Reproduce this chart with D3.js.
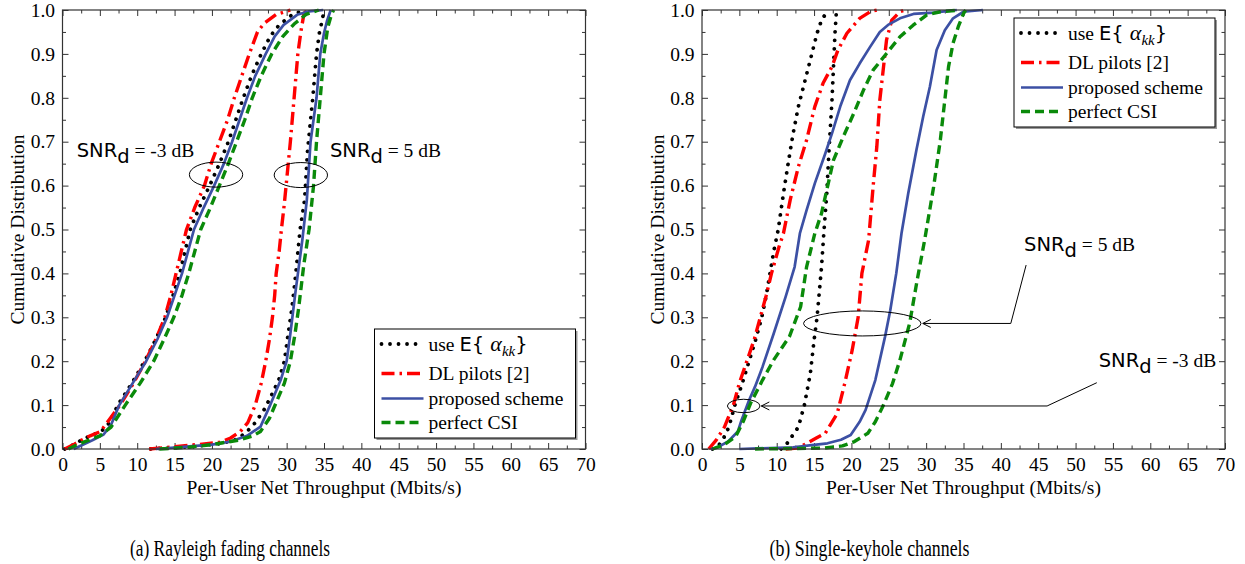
<!DOCTYPE html>
<html>
<head>
<meta charset="utf-8">
<script src="https://cdn.jsdelivr.net/npm/d3@7"></script>
<style>
  body { margin: 0; background: #fff; }
  svg { display: block; }
</style>
</head>
<body>
<svg id="chart" width="1245" height="564"></svg>
<script>
/* Ticks, labels */
const xMajor = d3.range(0, 71, 5);
const xMinor = d3.range(2.5, 70, 5);
const yMajor = d3.range(0, 11).map((i) => i / 10);
const yMinor = d3.range(0, 10).map((i) => i / 10 + 0.05);
const legendLabels = ['use E{α_kk}', 'DL pilots [2]', 'proposed scheme', 'perfect CSI'];
const captions = ['(a) Rayleigh fading channels', '(b) Single-keyhole channels'];
const snrValues = ['-3', '5'];

/* (a) Rayleigh fading channels -- [throughput Mbits/s, CDF] */
const rayExpLow = [[0.3,0],[1.5,0.01],[2.5,0.02],[3.7,0.03],[5.2,0.04],[6.3,0.06],[7.4,0.1],[9.3,0.15],[11,0.2],[12.5,0.25],[13.8,0.3],[14.8,0.35],[15.7,0.4],[16.4,0.45],[17.1,0.5],[18.3,0.55],[19.7,0.6],[21,0.65],[22.2,0.7],[23.2,0.75],[24.2,0.8],[25.3,0.85],[26.6,0.9],[27.8,0.94],[29,0.966],[30.8,0.99],[32.5,1]];
const rayDlLow = [[0.3,0],[1.5,0.01],[2.5,0.02],[3.7,0.03],[5.1,0.04],[6.4,0.07],[7.7,0.1],[9.5,0.15],[11.1,0.2],[12.5,0.25],[13.7,0.3],[14.5,0.35],[15.2,0.4],[15.9,0.45],[16.6,0.5],[17.7,0.55],[19,0.6],[19.9,0.65],[21,0.7],[22.1,0.75],[23,0.8],[24,0.85],[25,0.9],[26.1,0.95],[27,0.97],[28.6,0.99],[30.5,1]];
const rayPropLow = [[1.5,0],[2.5,0.008],[4,0.02],[5.5,0.033],[6.5,0.055],[7.6,0.1],[9.4,0.15],[11.2,0.2],[12.7,0.25],[14,0.3],[15,0.35],[16,0.4],[16.8,0.45],[17.6,0.5],[18.9,0.55],[20.3,0.6],[21.6,0.65],[22.7,0.7],[23.7,0.75],[24.7,0.8],[25.8,0.85],[27.2,0.9],[28.4,0.94],[29.6,0.966],[31.4,0.989],[33,0.997],[34.9,1]];
const rayPerfLow = [[0.8,0],[2,0.01],[3.5,0.02],[5,0.03],[6.5,0.05],[8.4,0.1],[10.4,0.15],[12.2,0.2],[13.6,0.25],[14.9,0.3],[16,0.35],[16.9,0.4],[17.7,0.45],[18.5,0.5],[19.8,0.55],[21,0.6],[22.2,0.65],[23.3,0.7],[24.4,0.75],[25.4,0.8],[26.6,0.85],[28,0.9],[29.5,0.94],[31,0.968],[32.6,0.99],[34.3,1]];
const rayExpHigh = [[11.8,0],[17,0.005],[21,0.012],[23,0.02],[24.5,0.036],[25.8,0.06],[27,0.09],[28.2,0.13],[29,0.16],[29.7,0.2],[30.1,0.25],[30.7,0.32],[31.1,0.38],[31.4,0.43],[31.8,0.5],[32.4,0.567],[32.8,0.68],[33.5,0.8],[34,0.9],[34.4,0.95],[34.8,0.98],[35,1]];
const rayDlHigh = [[11.6,0],[15,0.005],[18,0.01],[21,0.015],[22.5,0.025],[23.8,0.04],[24.8,0.06],[25.8,0.1],[26.6,0.15],[27.2,0.2],[27.7,0.25],[28.1,0.3],[28.4,0.35],[28.6,0.4],[29,0.45],[29.3,0.5],[29.7,0.56],[30.1,0.63],[30.5,0.7],[31,0.8],[31.5,0.9],[31.9,0.95],[32.3,0.99],[32.6,1]];
const rayPropHigh = [[12.5,0],[17,0.006],[20,0.01],[22.5,0.017],[24.7,0.03],[26.5,0.051],[27.8,0.1],[29.2,0.157],[30,0.2],[30.5,0.263],[31.2,0.36],[32.1,0.476],[32.7,0.567],[33.2,0.7],[34,0.8],[34.5,0.9],[35,0.947],[35.4,0.975],[35.9,1]];
const rayPerfHigh = [[13,0],[17,0.004],[20,0.01],[23.5,0.02],[25.5,0.03],[26.5,0.04],[27.7,0.07],[28.7,0.11],[29.7,0.15],[30.5,0.2],[31.1,0.26],[31.6,0.32],[32.3,0.42],[33,0.5],[33.6,0.6],[34,0.7],[34.5,0.8],[35,0.9],[35.5,0.96],[36,0.99],[36.3,1]];

/* (b) Single-keyhole channels */
const keyExpLow = [[1.4,0],[2.3,0.01],[2.9,0.025],[3.6,0.05],[4.4,0.1],[5.4,0.15],[6.3,0.2],[7.2,0.25],[8,0.3],[8.6,0.35],[9.1,0.4],[9.6,0.45],[10.2,0.5],[10.9,0.582],[11.6,0.658],[12.2,0.719],[12.9,0.78],[13.8,0.84],[14.7,0.9],[15.4,0.947],[16,0.977],[16.9,1]];
const keyDlLow = [[0.9,0],[1.9,0.02],[3,0.05],[4.2,0.1],[5,0.15],[6,0.2],[7,0.25],[7.8,0.3],[8.6,0.35],[9.3,0.4],[10.3,0.46],[10.9,0.491],[11.8,0.567],[12.9,0.643],[14,0.704],[15.1,0.78],[16.2,0.833],[17.4,0.871],[18.2,0.909],[19.4,0.947],[21.1,0.981],[22.5,0.996],[23.4,1]];
const keyPropLow = [[1.2,0],[2,0.003],[3.5,0.017],[4.8,0.04],[5.3,0.066],[6.3,0.111],[7.1,0.142],[8.1,0.187],[9.6,0.263],[11.2,0.347],[12.4,0.415],[13.1,0.491],[14,0.544],[15.1,0.605],[16.5,0.673],[17.4,0.719],[18.5,0.78],[19.8,0.84],[21.1,0.878],[22.5,0.916],[23.8,0.95],[24.9,0.966],[26.5,0.981],[28.3,0.991],[31,0.994],[34.1,1]];
const keyPerfLow = [[1.4,0],[3,0.01],[4.5,0.028],[5.5,0.062],[6.5,0.104],[8.1,0.157],[9.6,0.203],[11.7,0.256],[13.2,0.324],[14,0.415],[15.1,0.491],[16,0.537],[16.7,0.59],[17.6,0.658],[18.9,0.711],[20.3,0.764],[21.6,0.817],[22.9,0.863],[24.7,0.901],[26.5,0.939],[28.3,0.966],[30.1,0.989],[31.9,0.996],[34.5,1]];
const keyExpHigh = [[10.6,0],[11.4,0.013],[12.9,0.05],[13.7,0.1],[14.5,0.172],[15,0.248],[15.4,0.3],[16,0.415],[16.3,0.491],[16.7,0.582],[17,0.681],[17.4,0.795],[17.6,0.871],[17.8,0.947],[18,1]];
const keyDlHigh = [[11.2,0],[12.7,0.002],[13.7,0.01],[15.3,0.025],[16.5,0.036],[18.1,0.081],[19.1,0.149],[20.1,0.225],[20.9,0.3],[21.4,0.4],[22.3,0.476],[22.9,0.597],[23.4,0.689],[23.8,0.795],[24.3,0.871],[24.7,0.932],[25.4,0.977],[26.5,0.996],[27.2,1]];
const keyPropHigh = [[5,0],[12.2,0.004],[14.7,0.009],[16.8,0.013],[18.6,0.021],[19.9,0.032],[21.1,0.062],[21.9,0.089],[23.2,0.157],[24.5,0.256],[25.2,0.316],[26,0.4],[26.7,0.491],[27.6,0.582],[28.7,0.681],[29.6,0.757],[30.5,0.825],[31.4,0.909],[32.5,0.954],[33.6,0.981],[35,0.996],[37.6,1]];
const keyPerfHigh = [[7.1,0],[16.3,0.002],[18.8,0.007],[20.4,0.017],[22.2,0.036],[23.2,0.062],[24.2,0.097],[25.5,0.149],[26.5,0.203],[27.8,0.287],[28.8,0.385],[29.8,0.476],[31,0.597],[31.9,0.704],[32.5,0.795],[33,0.871],[33.6,0.924],[34.3,0.962],[35,0.992],[35.3,1]];

const serif = '"Liberation Serif", "Times New Roman", serif';
const sans = '"DejaVu Sans", sans-serif';
const fontSize = 19.5;

// one style per legend entry
const styles = [
  { color: '#000000', width: 3.8, dash: '0.01 8.5', cap: 'round' },
  { color: '#ff0000', width: 3.4, dash: '13 5 2.5 5', cap: 'butt' },
  { color: '#3c50a4', width: 2.7, dash: null, cap: 'butt' },
  { color: '#0a8a0a', width: 3.4, dash: '9 5', cap: 'butt' },
];

const panels = [
  {
    left: 62.5,
    curves: [[rayExpLow, rayExpHigh], [rayDlLow, rayDlHigh], [rayPropLow, rayPropHigh], [rayPerfLow, rayPerfHigh]],
    legendTop: 329,
    ellipses: [
      { cx: 20.55, cy: 0.625, rx: 3.57, ry: 0.0285 },
      { cx: 31.9, cy: 0.624, rx: 3.57, ry: 0.0285 },
    ],
    labels: [
      { x: 1.9, y: 0.666, snr: snrValues[0] },
      { x: 35.8, y: 0.666, snr: snrValues[1] },
    ],
    leaders: [],
  },
  {
    left: 702,
    curves: [[keyExpLow, keyExpHigh], [keyDlLow, keyDlHigh], [keyPropLow, keyPropHigh], [keyPerfLow, keyPerfHigh]],
    legendTop: 18,
    ellipses: [
      { cx: 21.45, cy: 0.286, rx: 7.86, ry: 0.0285 },
      { cx: 5.58, cy: 0.098, rx: 2.18, ry: 0.0153 },
    ],
    labels: [
      { x: 43.1, y: 0.451, snr: snrValues[1] },
      { x: 53.1, y: 0.187, snr: snrValues[0] },
    ],
    leaders: [
      [[43.38, 0.419], [41.33, 0.286], [29.55, 0.286]],
      [[52.84, 0.151], [46.19, 0.098], [7.94, 0.098]],
    ],
  },
];

const svg = d3.select('#chart');
const plotW = 523;
const yTop = 10, yBottom = 449;

panels.forEach((p, pi) => {
  const x = d3.scaleLinear().domain([0, 70]).range([p.left, p.left + plotW]);
  const y = d3.scaleLinear().domain([0, 1]).range([yBottom, yTop]);
  const g = svg.append('g');

  // frame ticks on all four sides
  const axes = [
    { gen: d3.axisBottom(x), ty: yBottom, labels: true },
    { gen: d3.axisTop(x), ty: yTop, labels: false },
  ];
  axes.forEach((a) => {
    g.append('g').attr('transform', `translate(0,${a.ty})`)
      .call(a.gen.tickValues(xMinor).tickSize(-3.5).tickFormat(''));
    g.append('g').attr('transform', `translate(0,${a.ty})`)
      .call(a.gen.tickValues(xMajor).tickSize(-6).tickPadding(8)
        .tickFormat(a.labels ? d3.format('d') : ''));
  });
  [[d3.axisLeft(y), p.left, true], [d3.axisRight(y), p.left + plotW, false]].forEach(([gen, tx, lab]) => {
    g.append('g').attr('transform', `translate(${tx},0)`)
      .call(gen.tickValues(yMinor).tickSize(-3.5).tickFormat(''));
    g.append('g').attr('transform', `translate(${tx},0)`)
      .call(gen.tickValues(yMajor).tickSize(-6).tickPadding(7.5)
        .tickFormat(lab ? d3.format('.1f') : ''));
  });
  g.selectAll('.domain').remove();
  g.selectAll('.tick line').attr('stroke', '#333').attr('stroke-width', 1);
  g.selectAll('.tick text')
    .style('font-family', serif).style('font-size', fontSize + 'px').attr('fill', '#000');

  // curves
  const line = d3.line().x((d) => x(d[0])).y((d) => y(d[1]));
  p.curves.forEach((pair, si) => {
    const s = styles[si];
    pair.forEach((data) => {
      g.append('path')
        .attr('d', line(data))
        .attr('fill', 'none')
        .attr('stroke', s.color)
        .attr('stroke-width', s.width)
        .attr('stroke-dasharray', s.dash)
        .attr('stroke-linecap', s.cap)
        .attr('stroke-linejoin', 'round');
    });
  });

  // frame
  g.append('rect')
    .attr('x', p.left).attr('y', yTop)
    .attr('width', plotW).attr('height', yBottom - yTop)
    .attr('fill', 'none').attr('stroke', '#333').attr('stroke-width', 1.2);

  // ellipses, leaders and SNR labels
  p.ellipses.forEach((e) => {
    g.append('ellipse')
      .attr('cx', x(e.cx)).attr('cy', y(e.cy))
      .attr('rx', x(e.rx) - x(0)).attr('ry', y(0) - y(e.ry))
      .attr('fill', 'none').attr('stroke', '#000').attr('stroke-width', 1);
  });
  p.leaders.forEach((pts) => {
    g.append('path')
      .attr('d', line(pts))
      .attr('fill', 'none').attr('stroke', '#000').attr('stroke-width', 1);
    const tip = pts[pts.length - 1];
    const tx = x(tip[0]), ty = y(tip[1]);
    g.append('path')
      .attr('d', `M${tx + 8},${ty - 4}L${tx},${ty}L${tx + 8},${ty + 4}`)
      .attr('fill', 'none').attr('stroke', '#000').attr('stroke-width', 1);
  });
  p.labels.forEach((l) => {
    const t = g.append('text')
      .attr('x', x(l.x)).attr('y', y(l.y))
      .style('font-size', fontSize + 'px');
    t.append('tspan').style('font-family', sans).text('SNR');
    t.append('tspan').style('font-family', sans).attr('dy', 6).text('d');
    t.append('tspan').style('font-family', serif).attr('dy', -6).text(` = ${l.snr} dB`);
  });

  // legend
  const lx = p.left + plotW - 211, ly = p.legendTop, lw = 201, lh = 109;
  g.append('rect').attr('x', lx + 2).attr('y', ly + 2).attr('width', lw).attr('height', lh).attr('fill', '#999');
  g.append('rect').attr('x', lx).attr('y', ly).attr('width', lw).attr('height', lh)
    .attr('fill', '#fff').attr('stroke', '#000').attr('stroke-width', 1);
  const rowY = [15, 44.5, 69.5, 93.5];
  legendLabels.forEach((lab, i) => {
    const s = styles[i];
    const yy = ly + rowY[i];
    g.append('line')
      .attr('x1', lx + 7).attr('x2', lx + 49).attr('y1', yy).attr('y2', yy)
      .attr('stroke', s.color).attr('stroke-width', s.width)
      .attr('stroke-dasharray', s.dash).attr('stroke-linecap', s.cap);
    const t = g.append('text').attr('x', lx + 54).attr('y', yy + 6.5)
      .style('font-family', serif).style('font-size', fontSize + 'px');
    if (i === 0) {
      t.append('tspan').text('use ');
      t.append('tspan').style('font-family', sans).text('E{ ');
      t.append('tspan').style('font-style', 'italic').style('font-size', '22px').text('α');
      t.append('tspan').style('font-style', 'italic').style('font-size', '15px').attr('dy', 5).text('kk');
      t.append('tspan').style('font-family', sans).attr('dy', -5).text('}');
    } else {
      t.text(lab);
    }
  });

  // axis titles
  g.append('text')
    .attr('x', p.left + plotW / 2).attr('y', 494)
    .attr('text-anchor', 'middle')
    .style('font-family', serif).style('font-size', fontSize + 'px')
    .text('Per-User Net Throughput (Mbits/s)');
  g.append('text')
    .attr('transform', `translate(${p.left - 38.5},${(yTop + yBottom) / 2}) rotate(-90)`)
    .attr('text-anchor', 'middle')
    .style('font-family', serif).style('font-size', fontSize + 'px')
    .text('Cumulative Distribution');

  // caption
  g.append('text')
    .attr('x', p.left + 67.5).attr('y', 556)
    .attr('textLength', 200).attr('lengthAdjust', 'spacingAndGlyphs')
    .style('font-family', serif).style('font-size', '23px')
    .text(captions[pi]);
});
</script>
</body>
</html>
